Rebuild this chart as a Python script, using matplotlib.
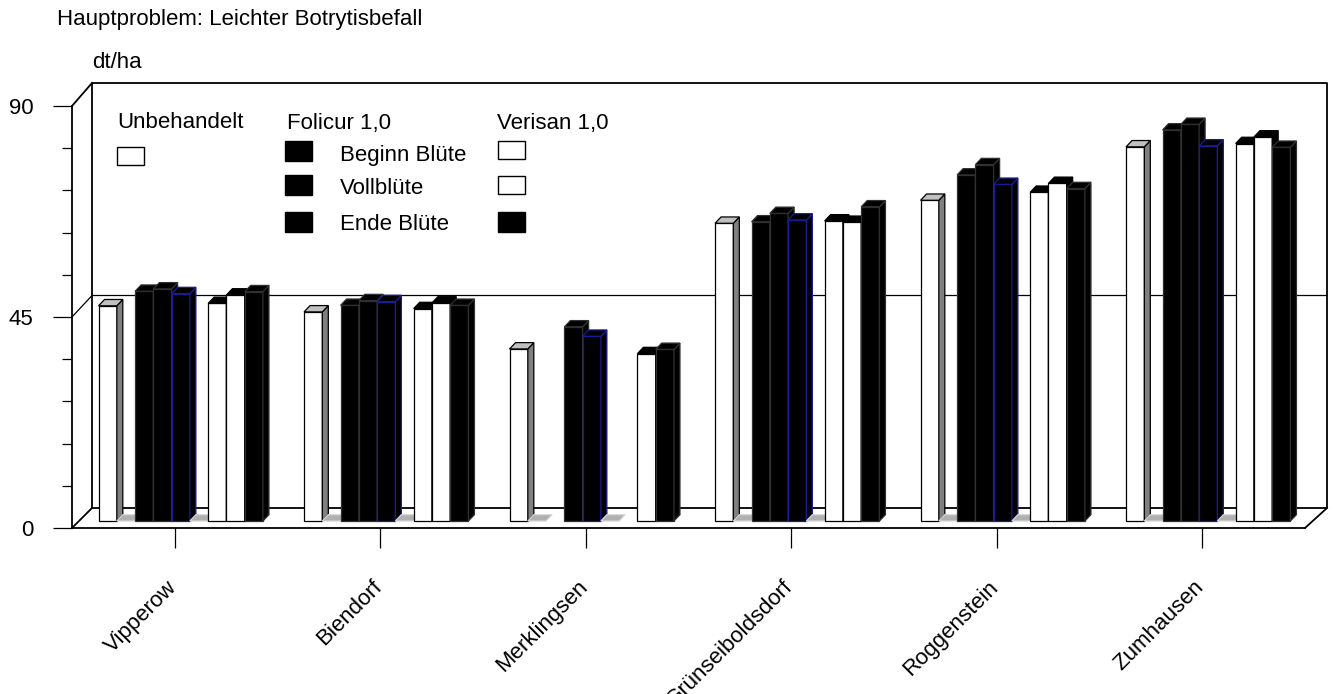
import numpy as np
import matplotlib
matplotlib.use("Agg")
import matplotlib.pyplot as plt
from matplotlib.patches import Polygon, Rectangle
from matplotlib.transforms import ScaledTranslation

plt.rcParams['font.family'] = ['Liberation Sans', 'DejaVu Sans']

# ---------------- data ----------------
categories = ["Vipperow", "Biendorf", "Merklingsen", "Grünseiboldsdorf", "Roggenstein", "Zumhausen"]
nan = np.nan
unbehandelt     = [45.9, 44.6, 36.7, 63.5, 68.4, 79.8]
folicur_beginn  = [49.0, 46.0, nan, 63.8, 73.8, 83.4]
folicur_voll    = [49.5, 47.0, 41.4, 65.6, 76.0, 84.6]
folicur_ende    = [48.5, 46.8, 39.4, 64.2, 71.8, 80.0]
verisan_beginn  = [46.4, 45.3, nan, 64.0, 70.1, 80.5]
verisan_voll    = [48.2, 46.5, 35.7, 63.7, 72.0, 81.9]
verisan_ende    = [48.9, 46.0, 36.6, 67.0, 70.9, 79.7]
spacer          = [0, 0, 0, 0, 0, 0]
y_ticks = [0, 45, 90]
title = "Hauptproblem: Leichter Botrytisbefall"
unit = "dt/ha"

FS = 16

# ---------------- geometry ----------------
W, H = 1334, 694
fig = plt.figure(figsize=(W / 100, H / 100), dpi=100)
fig.patch.set_facecolor("white")

px_x0, px_x1 = 72, 1305     # front axis x range (0..6)
px_y0, px_y1 = 528, 106     # front axis y range (0..90)
ax = fig.add_axes([px_x0 / W, 1 - px_y0 / H, (px_x1 - px_x0) / W, (px_y0 - px_y1) / H])
ax.set_xlim(0, len(categories))
ax.set_ylim(0, 90)
ax.set_facecolor("none")

sx = (px_x1 - px_x0) / len(categories)   # px per category
sy = (px_y0 - px_y1) / 90.0              # px per value unit

def dxp(p):
    return p / sx

def dyp(p):
    return p / sy

# back wall offsets
bdx = dxp(20)
def back_y(v):
    return v + dyp(20 + 3 * v / 90.0)
right_back = len(categories) + dxp(22)

wall_kw = dict(color="black", lw=1.3, clip_on=False, solid_capstyle="projecting", zorder=1)
# back wall rectangle
ax.plot([bdx, right_back, right_back, bdx, bdx],
        [back_y(0), back_y(0), back_y(90), back_y(90), back_y(0)], **wall_kw)
# gridline at 45 on back + side wall
ax.plot([0, bdx, right_back], [45, back_y(45), back_y(45)], color="black", lw=0.9, clip_on=False, zorder=1)
# side wall diagonals
for v in (0, 90):
    ax.plot([0, bdx], [v, back_y(v)], **wall_kw)
# right floor diagonal
ax.plot([len(categories), right_back], [0, back_y(0)], **wall_kw)

# ---------------- bars ----------------
series = [
    (unbehandelt,    dict(front="white", top="#c0c0c0", side="#808080", edge="black")),
    (spacer,         dict(front="#b0b0b0", top="#b0b0b0", side="#b0b0b0", edge="#d6d6d6")),
    (folicur_beginn, dict(front="black", top="black", side="black", edge="#303030")),
    (folicur_voll,   dict(front="black", top="black", side="black", edge="#303030")),
    (folicur_ende,   dict(front="black", top="black", side="black", edge="#1a1a9a")),
    (spacer,         dict(front="#b0b0b0", top="#b0b0b0", side="#b0b0b0", edge="#d6d6d6")),
    (verisan_beginn, dict(front="white", top="black", side="black", edge="black")),
    (verisan_voll,   dict(front="white", top="black", side="black", edge="black")),
    (verisan_ende,   dict(front="black", top="black", side="black", edge="#303030")),
]
nslot = len(series)
group_w = 0.8
sw = group_w / nslot
ox, oy = dxp(6), dyp(7)          # bar front plane offset
ddx, ddy = dxp(6), dyp(6.3)      # bar depth

z = 5
for i in range(len(categories)):
    for k, (vals, st) in enumerate(series):
        v = vals[i]
        if v is None or (isinstance(v, float) and np.isnan(v)):
            continue
        x0 = i + (1 - group_w) / 2 + k * sw + ox
        x1 = x0 + sw
        y0 = oy
        y1 = v + oy
        lw = 0.9
        if v > 0:
            ax.add_patch(Polygon([(x0, y0), (x1, y0), (x1, y1), (x0, y1)], closed=True,
                                 facecolor=st["front"], edgecolor=st["edge"], lw=lw,
                                 clip_on=False, zorder=z))
            ax.add_patch(Polygon([(x1, y0), (x1 + ddx, y0 + ddy), (x1 + ddx, y1 + ddy), (x1, y1)],
                                 closed=True, facecolor=st["side"], edgecolor=st["edge"], lw=lw,
                                 clip_on=False, zorder=z))
        ax.add_patch(Polygon([(x0, y1), (x1, y1), (x1 + ddx, y1 + ddy), (x0 + ddx, y1 + ddy)],
                             closed=True, facecolor=st["top"], edgecolor=st["edge"], lw=lw,
                             clip_on=False, zorder=z))
        z += 1

# ---------------- axes / ticks ----------------
for s in ("top", "right"):
    ax.spines[s].set_visible(False)
ax.spines["left"].set_linewidth(1.3)
ax.spines["bottom"].set_linewidth(1.3)
ax.spines["left"].set_zorder(2)
ax.spines["bottom"].set_zorder(200)

ax.set_yticks(y_ticks)
ax.set_yticklabels([str(t) for t in y_ticks], fontsize=FS)
ax.set_yticks(np.arange(0, 91, 9), minor=True)
ax.tick_params(axis="y", which="major", length=13.7, width=0.9, pad=14, direction="out")
ax.tick_params(axis="y", which="minor", length=7.2, width=0.9, direction="out")

ax.set_xticks(np.arange(len(categories)) + 0.5)
ax.set_xticklabels(categories, rotation=45, ha="right", fontsize=FS)
ax.tick_params(axis="x", which="major", length=14.4, width=0.9, pad=19, direction="out")
ax.tick_params(axis="x", which="minor", length=0)
shift = ScaledTranslation(6 / 100, -2 / 100, fig.dpi_scale_trans)
for lab in ax.get_xticklabels():
    lab.set_transform(lab.get_transform() + shift)

# ---------------- texts ----------------
def ftext(x, y, s, **kw):
    fig.text(x / W, 1 - y / H, s, va="center", ha="left", fontsize=FS, **kw)

ftext(57, 20, title)
ftext(92, 63, unit)

# legend (drawn manually to match layout)
ftext(117, 123, "Unbehandelt")
ftext(287, 123, "Folicur 1,0")
ftext(497, 123, "Verisan 1,0")
ftext(340, 155, "Beginn Blüte")
ftext(340, 189, "Vollblüte")
ftext(340, 225, "Ende Blüte")

def fsquare(cx, cy, face, w=27, h=18):
    fig.patches.append(Rectangle(((cx - w / 2) / W, 1 - (cy + h / 2) / H), w / W, h / H,
                                 transform=fig.transFigure, facecolor=face,
                                 edgecolor="black", lw=1.0))

fsquare(130.5, 156, "white")
for cy in (151, 185, 222):
    fsquare(298.5, cy, "black", h=19)
fsquare(511, 150, "white")
fsquare(511, 185, "white")
fsquare(511, 222, "black", h=19)

fig.savefig("out.png", dpi=100, facecolor="white")
